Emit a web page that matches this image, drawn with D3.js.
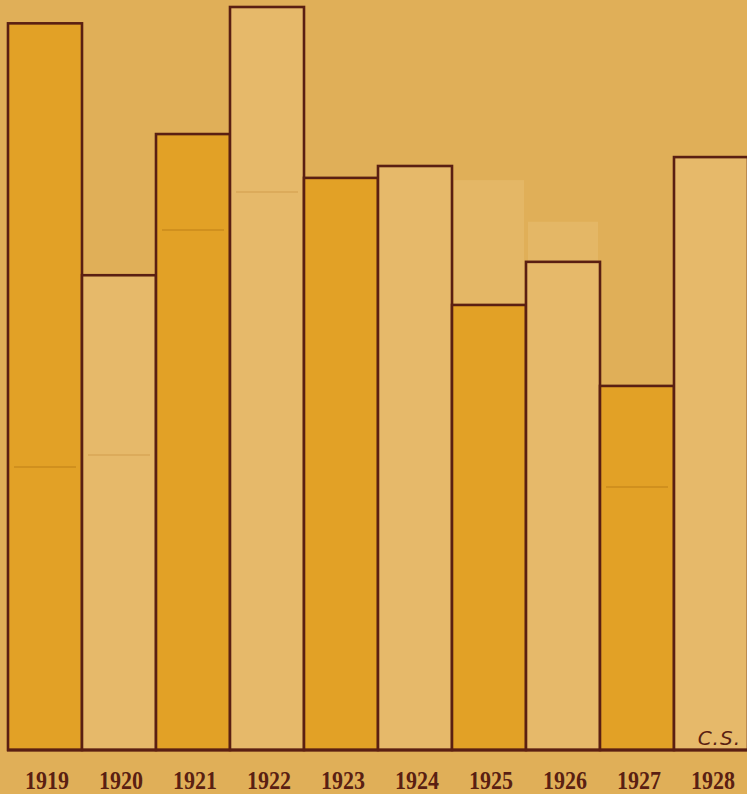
<!DOCTYPE html>
<html>
<head>
<meta charset="utf-8">
<script src="https://cdn.jsdelivr.net/npm/d3@7/dist/d3.min.js"></script>
<style>
  html, body { margin: 0; padding: 0; background: #e0af58; }
  svg { display: block; }
</style>
</head>
<body>
<svg id="chart" width="747" height="794"></svg>
<script>
const years = ["1919", "1920", "1921", "1922", "1923", "1924", "1925", "1926", "1927", "1928"];
const values = [97.8, 63.9, 82.9, 100, 77.0, 78.6, 59.9, 65.7, 49.0, 79.8];
const faintMarks = [38.1, 39.7, 70.0, 75.1, null, null, 76.7, 71.1, 35.4, null];
const signature = "C.S.";

const W = 747, H = 794;
const svg = d3.select("#chart");

const x = d3.scaleBand().domain(years).range([8, 748]).padding(0);
const y = d3.scaleLinear().domain([0, 100]).range([750, 7]);

const dark = "#e2a126", light = "#e6b96a", ink = "#5a1f12";

svg.append("rect").attr("width", W).attr("height", H).attr("fill", "#e0af58");

const data = years.map((yr, i) => ({ yr, v: values[i], f: faintMarks[i], odd: i % 2 === 0 }));

// faint ghost rectangles rising above bars
svg.append("g").selectAll("rect")
  .data(data.filter(d => d.f !== null && d.f > d.v))
  .join("rect")
  .attr("x", d => x(d.yr) + 2)
  .attr("width", x.bandwidth() - 4)
  .attr("y", d => y(d.f))
  .attr("height", d => y(0) - y(d.f))
  .attr("fill", "#e8bd72")
  .attr("opacity", 0.55);

// bars
svg.append("g").selectAll("rect")
  .data(data)
  .join("rect")
  .attr("x", d => x(d.yr))
  .attr("width", x.bandwidth())
  .attr("y", d => y(d.v))
  .attr("height", d => y(0) - y(d.v))
  .attr("fill", d => d.odd ? dark : light)
  .attr("stroke", ink)
  .attr("stroke-width", 2.6);

// faint inner lines within bars
svg.append("g").selectAll("line")
  .data(data.filter(d => d.f !== null && d.f < d.v))
  .join("line")
  .attr("x1", d => x(d.yr) + 6)
  .attr("x2", d => x(d.yr) + x.bandwidth() - 6)
  .attr("y1", d => y(d.f))
  .attr("y2", d => y(d.f))
  .attr("stroke", d => d.odd ? "#c98a1c" : "#d8a656")
  .attr("stroke-width", 2)
  .attr("opacity", 0.7);

// baseline
svg.append("line")
  .attr("x1", 7).attr("x2", W)
  .attr("y1", y(0)).attr("y2", y(0))
  .attr("stroke", ink).attr("stroke-width", 3);

// axis labels
const axis = d3.axisBottom(x).tickSize(0).tickPadding(0);
const ag = svg.append("g").attr("transform", `translate(2, ${y(0)})`).call(axis);
ag.select(".domain").remove();
ag.selectAll("text")
  .attr("y", 39)
  .attr("dy", 0)
  .attr("fill", ink)
  .attr("font-family", "'Liberation Serif', 'DejaVu Serif', serif")
  .attr("font-weight", "bold")
  .attr("font-size", 26)
  .attr("textLength", 44)
  .attr("lengthAdjust", "spacingAndGlyphs");

// signature
svg.append("text")
  .attr("x", 741).attr("y", 745)
  .attr("text-anchor", "end")
  .attr("fill", ink)
  .attr("font-family", "'DejaVu Sans', sans-serif")
  .attr("font-style", "italic")
  .attr("font-size", 20)
  .attr("letter-spacing", 1)
  .text(signature);
</script>
</body>
</html>
